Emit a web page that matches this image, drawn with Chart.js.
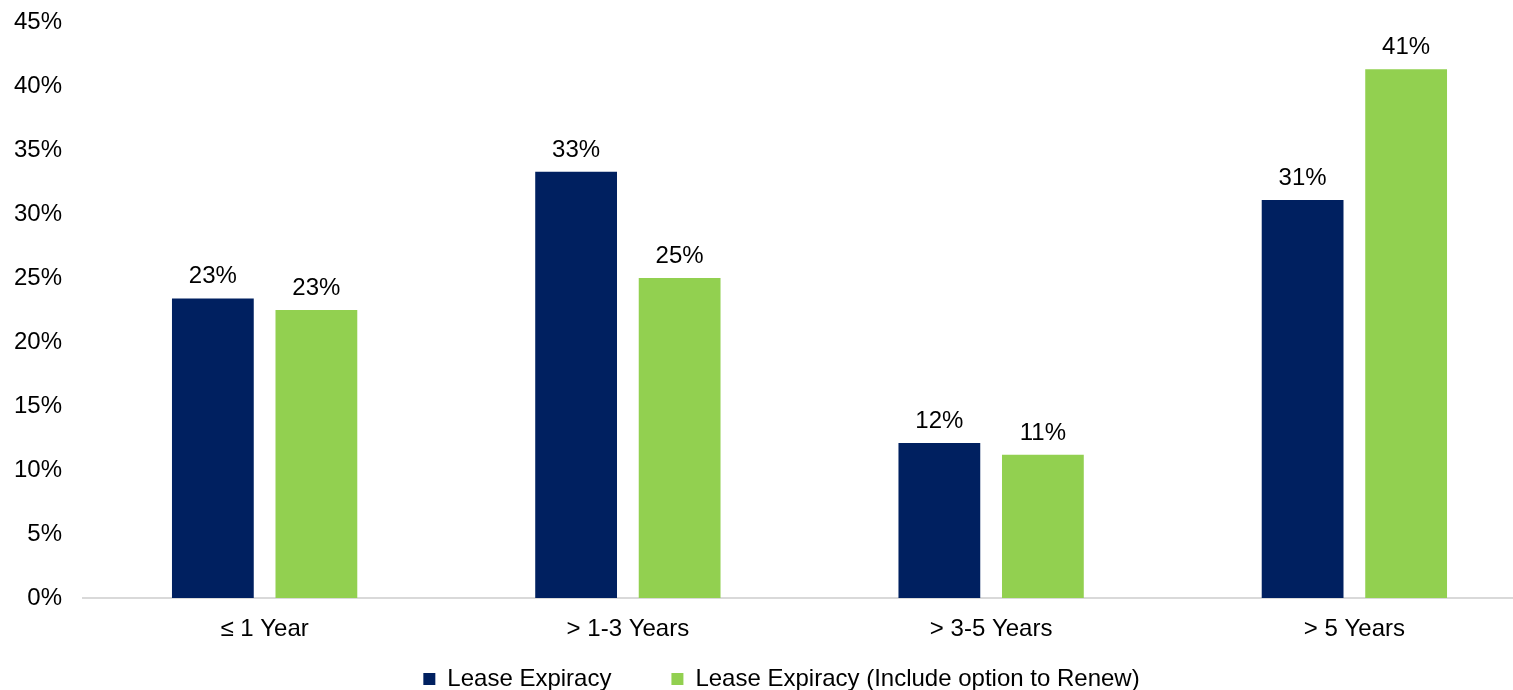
<!DOCTYPE html>
<html>
<head>
<meta charset="utf-8">
<script src="https://cdn.jsdelivr.net/npm/chart.js@4.4.1/dist/chart.umd.min.js"></script>
<style>
html,body{margin:0;padding:0;background:#fff;overflow:hidden;}
#wrap{position:absolute;left:0;top:0;width:1513px;height:690px;overflow:hidden;}
</style>
</head>
<body>
<div id="wrap"><canvas id="c" width="1536" height="701"></canvas></div>
<script>
const categories = ['\u2264 1 Year', '> 1-3 Years', '> 3-5 Years', '> 5 Years'];
const leaseExpiracy = [23.4, 33.3, 12.1, 31.1];
const leaseExpiracyRenew = [22.5, 25.0, 11.2, 41.3];
const seriesNames = ['Lease Expiracy', 'Lease Expiracy (Include option to Renew)'];
const yTicks = [0, 5, 10, 15, 20, 25, 30, 35, 40, 45];

const FONT = 'Liberation Sans, Arial, sans-serif';

const valueLabels = {
  id: 'valueLabels',
  afterDatasetsDraw(chart) {
    const ctx = chart.ctx;
    ctx.save();
    ctx.font = '24px ' + FONT;
    ctx.fillStyle = '#000';
    ctx.textAlign = 'center';
    ctx.textBaseline = 'alphabetic';
    chart.data.datasets.forEach((ds, di) => {
      const meta = chart.getDatasetMeta(di);
      meta.data.forEach((bar, i) => {
        ctx.fillText(Math.round(ds.data[i]) + '%', bar.x, bar.y - 15);
      });
    });
    ctx.restore();
  }
};

function noLabelClip(axis) { axis._computeLabelArea = function () { return undefined; }; }

new Chart(document.getElementById('c'), {
  type: 'bar',
  data: {
    labels: categories,
    datasets: [
      { label: seriesNames[0], data: leaseExpiracy, backgroundColor: '#002060', categoryPercentage: 0.57, barPercentage: 0.79 },
      { label: seriesNames[1], data: leaseExpiracyRenew, backgroundColor: '#92D050', categoryPercentage: 0.57, barPercentage: 0.79 }
    ]
  },
  options: {
    responsive: false,
    animation: false,
    layout: { padding: { top: 22, left: 27, right: 0, bottom: 0 } },
    plugins: {
      legend: {
        position: 'bottom',
        labels: { font: { size: 24, family: FONT }, color: '#000', boxWidth: 12, boxHeight: 12, padding: 60 }
      },
      tooltip: { enabled: false }
    },
    scales: {
      x: {
        grid: { display: false, drawTicks: false },
        border: { display: true, color: '#d9d9d9', width: 2 },
        ticks: { font: { size: 24, family: FONT }, color: '#000', padding: 17 },
        afterFit(axis) { axis.height = 9; axis.paddingLeft = 0; axis.paddingRight = 0; noLabelClip(axis); }
      },
      y: {
        min: 0, max: 45,
        afterBuildTicks(axis) { axis.ticks = yTicks.map(v => ({ value: v })); },
        grid: { display: false, drawTicks: false },
        border: { display: false },
        ticks: { font: { size: 24, family: FONT }, color: '#000', padding: 21, callback: v => v + '%' },
        afterFit(axis) { axis.width = 56; axis.paddingTop = 0; axis.paddingBottom = 0; noLabelClip(axis); }
      }
    }
  },
  plugins: [valueLabels]
});
</script>
</body>
</html>
